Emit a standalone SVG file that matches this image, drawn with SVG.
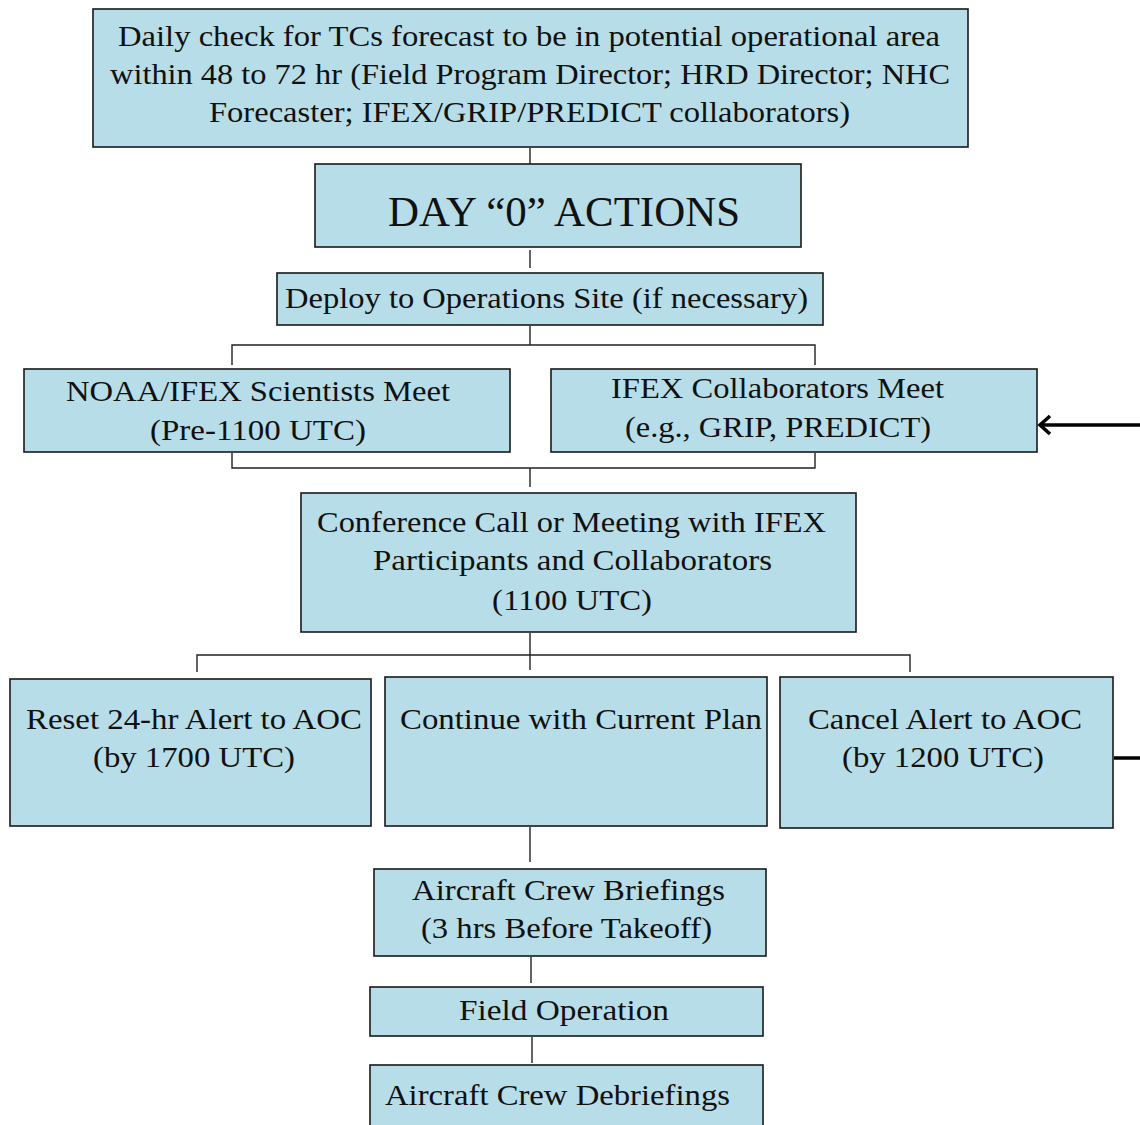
<svg xmlns="http://www.w3.org/2000/svg" width="1140" height="1125" viewBox="0 0 1140 1125">
<style>
.box{fill:#b7dde8;stroke:#1a1a1a;stroke-width:1.6}
.t{font-family:"Liberation Serif","Times New Roman",serif;font-size:30px;fill:#111}
.big{font-size:42px}
.ln{stroke:#222;stroke-width:1.4;fill:none}
.thick{stroke:#000;stroke-width:3.5;fill:none}
</style>
<defs>
<marker id="chev" markerWidth="16" markerHeight="24" refX="13" refY="12" orient="auto" markerUnits="userSpaceOnUse">
<path d="M3,3 L13,12 L3,21" fill="none" stroke="#000" stroke-width="3.5"/>
</marker>
</defs>
<rect width="1140" height="1125" fill="#fff"/>
<g id="n1"><rect class="box" x="93" y="9" width="875" height="138"/>
<text class="t" x="118" y="46" textLength="822" lengthAdjust="spacingAndGlyphs">Daily check for TCs forecast to be in potential operational area</text>
<text class="t" x="110" y="84" textLength="840" lengthAdjust="spacingAndGlyphs">within 48 to 72 hr (Field Program Director; HRD Director; NHC</text>
<text class="t" x="209" y="122" textLength="641" lengthAdjust="spacingAndGlyphs">Forecaster; IFEX/GRIP/PREDICT collaborators)</text></g>
<g id="n2"><rect class="box" x="315" y="164" width="486" height="83"/>
<text class="t big" x="388" y="226" textLength="352" lengthAdjust="spacingAndGlyphs">DAY “0” ACTIONS</text></g>
<g id="n3"><rect class="box" x="277" y="273" width="546" height="52"/>
<text class="t" x="285" y="308" textLength="523" lengthAdjust="spacingAndGlyphs">Deploy to Operations Site (if necessary)</text></g>
<g id="n4"><rect class="box" x="24" y="369" width="486" height="83"/>
<text class="t" x="66" y="401" textLength="384" lengthAdjust="spacingAndGlyphs">NOAA/IFEX Scientists Meet</text>
<text class="t" x="150" y="440" textLength="216" lengthAdjust="spacingAndGlyphs">(Pre-1100 UTC)</text></g>
<g id="n5"><rect class="box" x="551" y="369" width="486" height="83"/>
<text class="t" x="611" y="398" textLength="333" lengthAdjust="spacingAndGlyphs">IFEX Collaborators Meet</text>
<text class="t" x="625" y="437" textLength="306" lengthAdjust="spacingAndGlyphs">(e.g., GRIP, PREDICT)</text></g>
<g id="n6"><rect class="box" x="301" y="493" width="555" height="139"/>
<text class="t" x="317" y="532" textLength="509" lengthAdjust="spacingAndGlyphs">Conference Call or Meeting with IFEX</text>
<text class="t" x="373" y="570" textLength="399" lengthAdjust="spacingAndGlyphs">Participants and Collaborators</text>
<text class="t" x="492" y="610" textLength="160" lengthAdjust="spacingAndGlyphs">(1100 UTC)</text></g>
<g id="n7"><rect class="box" x="10" y="679" width="361" height="147"/>
<text class="t" x="26" y="729" textLength="336" lengthAdjust="spacingAndGlyphs">Reset 24-hr Alert to AOC</text>
<text class="t" x="93" y="767" textLength="202" lengthAdjust="spacingAndGlyphs">(by 1700 UTC)</text></g>
<g id="n8"><rect class="box" x="385" y="677" width="382" height="149"/>
<text class="t" x="400" y="729" textLength="362" lengthAdjust="spacingAndGlyphs">Continue with Current Plan</text></g>
<g id="n9"><rect class="box" x="780" y="677" width="333" height="151"/>
<text class="t" x="808" y="729" textLength="274" lengthAdjust="spacingAndGlyphs">Cancel Alert to AOC</text>
<text class="t" x="842" y="767" textLength="202" lengthAdjust="spacingAndGlyphs">(by 1200 UTC)</text></g>
<g id="n10"><rect class="box" x="374" y="869" width="392" height="87"/>
<text class="t" x="412" y="900" textLength="313" lengthAdjust="spacingAndGlyphs">Aircraft Crew Briefings</text>
<text class="t" x="421" y="938" textLength="291" lengthAdjust="spacingAndGlyphs">(3 hrs Before Takeoff)</text></g>
<g id="n11"><rect class="box" x="370" y="987" width="393" height="49"/>
<text class="t" x="459" y="1020" textLength="210" lengthAdjust="spacingAndGlyphs">Field Operation</text></g>
<g id="n12"><rect class="box" x="370" y="1065" width="393" height="70"/>
<text class="t" x="385" y="1105" textLength="345" lengthAdjust="spacingAndGlyphs">Aircraft Crew Debriefings</text></g>
<g id="connectors">
<path class="ln" d="M530,148 V164"/>
<path class="ln" d="M530,250 V268"/>
<path class="ln" d="M530,326 V345 M232,365 V345 H815 V365"/>
<path class="ln" d="M232,453 V468 H815 V453 M530,468 V487"/>
<path class="ln" d="M530,633 V670 M197,672 V655 H910 V672"/>
<path class="ln" d="M530,827 V862"/>
<path class="ln" d="M531,957 V983"/>
<path class="ln" d="M532,1037 V1063"/>
<path class="thick" d="M1140,425 H1040" marker-end="url(#chev)"/>
<path class="thick" d="M1114,758 H1140"/>
</g>
</svg>
